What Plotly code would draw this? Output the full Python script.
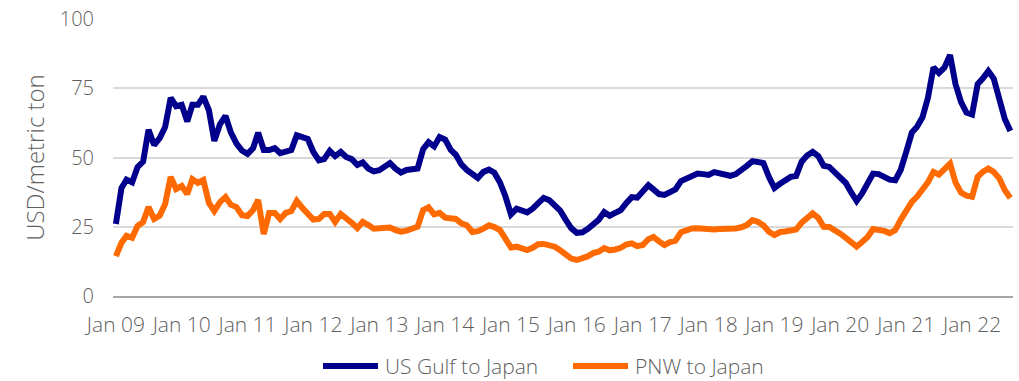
import pandas as pd
import plotly.graph_objects as go

# Monthly ocean freight rates, Jan 2009 - Aug 2022 (USD per metric ton)
months = pd.date_range("2009-01-01", periods=164, freq="MS")

us_gulf_to_japan = [
    26, 39, 42, 41, 46.5, 48.5, 60, 54.5, 57, 61, 71.5, 68.5,          # 2009
    69, 63, 69, 69, 72, 67, 56, 62, 65, 59, 55, 52.5,                  # 2010
    51.3, 53.4, 59, 52.7, 52.7, 53.4, 51.6, 52, 52.7, 58, 57.4, 56.7,  # 2011
    52, 49, 49.4, 52.4, 50.5, 52, 50.2, 49.4, 47.3, 48.2, 46, 45,      # 2012
    45.4, 46.5, 48, 46, 44.6, 45.5, 45.7, 46, 53, 55.5, 54, 57.4,      # 2013
    56.5, 52.7, 51, 47.5, 45.5, 43.7, 42.6, 44.8, 45.6, 44.5, 41, 36,  # 2014
    29.5, 31.5, 31, 30.2, 31.5, 33.2, 35.4, 34.6, 32.5, 30.8, 27.5, 24.5,  # 2015
    22.8, 23, 24.2, 25.8, 27.5, 30.3, 29, 30, 31, 33.5, 35.7, 35.5,    # 2016
    37.5, 40, 38.5, 36.8, 36.5, 37.5, 38.5, 41.5, 42.5, 43, 44.2, 44,  # 2017
    43.7, 44.7, 44.2, 43.8, 43.4, 44, 45.3, 47, 48.7, 48.3, 48, 43,    # 2018
    39, 40.5, 41.8, 43, 43.3, 48.5, 50.7, 52, 50.5, 47, 46.6, 44.8,    # 2019
    42.5, 40.8, 37.5, 34.3, 37, 40.2, 44.2, 44, 43, 42, 41.8, 45.5,    # 2020
    52, 59, 61, 64.5, 71.5, 82.5, 80.5, 82.5, 87, 76.5, 70, 66.2,      # 2021
    65.5, 76.5, 78.5, 81.2, 78.5, 70.5, 64, 59.6,                      # 2022
]

pnw_to_japan = [
    14.4, 19.2, 21.7, 21, 25.3, 26.7, 32.1, 27.8, 29, 33.2, 43, 38.6,  # 2009
    39.7, 36.8, 42.2, 40.8, 41.9, 33.6, 30.7, 33.9, 35.7, 32.9, 32.1, 29.2,  # 2010
    28.9, 31, 34.7, 22.4, 30, 30, 27.8, 30, 30.7, 34.3, 31.8, 30,      # 2011
    27.6, 27.8, 29.6, 29.6, 26.7, 29.6, 28.2, 26.4, 24.5, 26.8, 25.6, 24.3,  # 2012
    24.5, 24.8, 24.7, 23.8, 23.2, 23.6, 24.2, 25, 31, 32, 29.5, 30,    # 2013
    28.3, 28, 27.8, 26.2, 25.5, 23.1, 23.4, 24.3, 25.5, 24.9, 23.8, 20.7,  # 2014
    17.5, 17.8, 17.2, 16.6, 17.4, 18.7, 18.8, 18.5, 17.8, 16.5, 14.8, 13.5,  # 2015
    13, 13.5, 14.3, 15.5, 16, 17.3, 16.5, 16.8, 17.4, 18.6, 19, 18,    # 2016
    18.4, 20.5, 21.3, 19.7, 18.4, 19.5, 20, 23, 24, 24.4, 24.5, 24.2,  # 2017
    23.8, 24, 24.2, 24.2, 24.3, 24.4, 24.8, 25.6, 27.4, 26.8, 25.5, 23.2,  # 2018
    22, 23.1, 23.3, 23.5, 24, 26.5, 28.3, 29.8, 28.2, 25, 24.9, 24,    # 2019
    22.5, 21, 19.1, 17.8, 19.5, 21.3, 24.2, 23.9, 23.5, 22.7, 23.8, 27.5,  # 2020
    31, 34, 35.8, 38.5, 41, 44.8, 43.8, 45.8, 47.8, 41, 37.3, 36.2,    # 2021
    35.8, 43, 44.8, 46, 44.8, 42.5, 38.3, 35.4,                        # 2022
]

tick_dates = pd.date_range("2009-01-01", "2022-01-01", freq="YS")
tick_labels = [f"Jan {d:%y}" for d in tick_dates]
y_ticks = [0, 25, 50, 75, 100]

series = [
    ("US Gulf to Japan", us_gulf_to_japan, "#00008C"),
    ("PNW to Japan", pnw_to_japan, "#FF6A00"),
]

TEXT = "#5F5F5F"
FONT = "Open Sans"

fig = go.Figure()
for name, values, color in series:
    fig.add_trace(go.Scatter(
        x=months, y=values, name=name, mode="lines",
        line=dict(color=color, width=6, shape="linear"),
        showlegend=False,
    ))

# Legend drawn as line swatches + labels below the axis
legend_items = [(323, 378, 383), (573, 628, 633)]
for (x0, x1, xt), (name, _, color) in zip(legend_items, series):
    fig.add_shape(type="line", xref="paper", yref="paper",
                  x0=(x0 - 113) / 900, x1=(x1 - 113) / 900,
                  y0=(296 - 366) / 277, y1=(296 - 366) / 277,
                  line=dict(color=color, width=6))
    fig.add_annotation(text=name, xref="paper", yref="paper",
                       x=(xt - 113) / 900, y=(296 - 366) / 277,
                       xanchor="left", yanchor="middle", showarrow=False,
                       font=dict(family=FONT, size=21, color=TEXT, weight=300))

fig.update_layout(
    width=1019, height=381,
    margin=dict(l=113, r=6, t=19, b=85),
    paper_bgcolor="white", plot_bgcolor="white",
    font=dict(family=FONT, size=20, color=TEXT, weight=300),
)
fig.update_xaxes(
    range=[pd.Timestamp("2008-12-16"), pd.Timestamp("2022-08-16")],
    tickvals=tick_dates, ticktext=tick_labels,
    showgrid=False, showline=True, linecolor="#A6A6A6", linewidth=2,
    ticks="", ticklabelstandoff=9,
    tickfont=dict(family=FONT, size=21, color=TEXT, weight=300),
)
fig.update_yaxes(
    range=[0, 100], tickvals=y_ticks,
    showgrid=True, gridcolor="#D9D9D9", gridwidth=2,
    zeroline=False, showline=False, ticks="", ticklabelstandoff=18,
    tickfont=dict(family=FONT, size=20, color=TEXT, weight=300),
    title=dict(text="USD/metric ton",
               font=dict(family=FONT, size=24, color=TEXT, weight=300),
               standoff=8),
)

fig.write_html("out.html")
